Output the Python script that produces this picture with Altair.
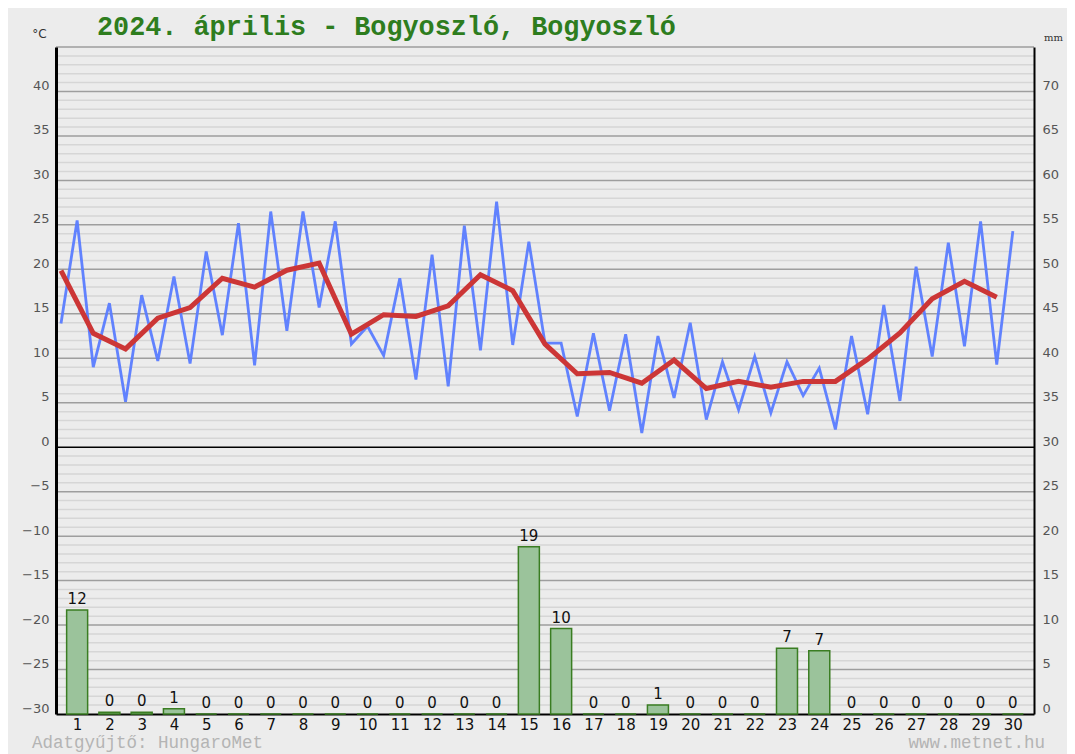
import altair as alt
import pandas as pd

# ---- data ----
days = list(range(1, 31))
# blue line: value at the start of each day and at its middle
t_edge = [13.9, 9.0, 5.1, 9.7, 9.4, 12.6, 9.2, 13.1, 15.7, 11.6,
          10.3, 7.6, 6.85, 10.9, 11.5, 11.7, 3.45, 4.1, 1.6, 5.55,
          3.1, 4.2, 3.85, 5.8, 2.0, 3.7, 5.2, 10.2, 11.35, 9.3]
t_mid = [25.5, 16.2, 17.1, 19.2, 22.0, 25.2, 26.5, 26.5, 25.4, 13.6,
         19.0, 21.65, 24.9, 27.6, 23.1, 11.7, 12.8, 12.7, 12.5, 14.0,
         9.6, 10.2, 9.6, 8.9, 12.5, 16.0, 20.3, 23.0, 25.4, 24.3]
# red line: daily mean
t_mean = [19.85, 12.8, 11.05, 14.5, 15.7, 19.0, 18.0, 19.9, 20.7, 12.7,
          14.9, 14.7, 15.9, 19.4, 17.6, 11.6, 8.25, 8.4, 7.2, 9.8,
          6.6, 7.4, 6.75, 7.4, 7.4, 9.9, 12.85, 16.7, 18.65, 16.85]
# precipitation (mm)
precip = [11.7, 0.2, 0.2, 0.6, 0, 0, 0, 0, 0, 0,
          0, 0, 0, 0, 18.8, 9.6, 0, 0, 1.0, 0,
          0, 0, 7.4, 7.1, 0, 0, 0, 0, 0, 0]

temp_ticks = list(range(-30, 41, 5))
mm_ticks = list(range(0, 71, 5))
minor_grid = [v for v in range(-29, 45) if v % 5 != 0]
major_grid = [v for v in range(-25, 46, 5) if v != 0]
zero_line = [0]

title_text = ["2024. április - Bogyoszló, Bogyoszló"]
footer_left = ["Adatgyűjtő: HungaroMet"]
footer_right = ["www.metnet.hu"]

W, H = 978, 667

blue_rows = []
for d, a, b in zip(days, t_edge, t_mid):
    blue_rows.append({"x": d - 0.5, "t": a})
    blue_rows.append({"x": d, "t": b})
blue_df = pd.DataFrame(blue_rows)
red_df = pd.DataFrame({"x": [d - 0.5 for d in days], "t": t_mean})
bar_df = pd.DataFrame({"x": days, "mm": precip})

xscale = alt.Scale(domain=[0.5, 30.5], nice=False, zero=False)
tscale = alt.Scale(domain=[-30, 45], nice=False, zero=False)
mscale = alt.Scale(domain=[0, 75], nice=False, zero=False)

xaxis = alt.Axis(values=days, format="d", title=None, grid=False, ticks=False,
                 domainColor="black", domainWidth=2, labelFont="DejaVu Sans",
                 labelFontSize=15, labelColor="#111111", labelPadding=3,
                 labelAngle=0, labelBaseline="top", zindex=0)
taxis = alt.Axis(values=temp_ticks, format="d", grid=False, ticks=False,
                 domainColor="black", domainWidth=3, labelFont="DejaVu Sans",
                 labelFontSize=13, labelColor="#555555", labelPadding=7,
                 labelOffset=-6, orient="left", zindex=2,
                 title="°C", titleAngle=0, titleX=-17, titleY=-7,
                 titleFont="DejaVu Sans", titleFontSize=12,
                 titleFontWeight="normal", titleColor="#333333",
                 titleAlign="center", titleBaseline="bottom")
maxis = alt.Axis(values=mm_ticks, format="d", grid=False, ticks=False,
                 domainColor="black", domainWidth=2, labelFont="DejaVu Sans",
                 labelFontSize=13, labelColor="#555555", labelPadding=8,
                 labelOffset=-6, orient="right", zindex=2,
                 title="mm", titleAngle=0, titleX=19, titleY=-5,
                 titleFont="DejaVu Serif", titleFontSize=10,
                 titleFontWeight="normal", titleColor="#333333",
                 titleAlign="center", titleBaseline="bottom")

minor = alt.Chart(pd.DataFrame({"v": minor_grid})).mark_rule(
    color="#d6d6d6", strokeWidth=1.5).encode(
    y=alt.Y("v:Q", scale=tscale, axis=None))
major = alt.Chart(pd.DataFrame({"v": major_grid})).mark_rule(
    color="#9e9e9e", strokeWidth=1.5).encode(
    y=alt.Y("v:Q", scale=tscale, axis=None))
zero = alt.Chart(pd.DataFrame({"v": zero_line})).mark_rule(
    color="black", strokeWidth=1.5).encode(
    y=alt.Y("v:Q", scale=tscale, axis=None))
grid_layer = alt.layer(minor, major, zero)

bars = alt.Chart(bar_df).mark_bar(
    size=21, fill="#9bc39b", stroke="#3a7d22", strokeWidth=1.5).encode(
    x=alt.X("x:Q", scale=xscale, axis=xaxis),
    y=alt.Y("mm:Q", scale=mscale, axis=maxis))
bar_labels = alt.Chart(bar_df).mark_text(
    baseline="bottom", dy=-3, font="DejaVu Sans", fontSize=15,
    color="#111111").encode(
    x=alt.X("x:Q", scale=xscale, axis=xaxis),
    y=alt.Y("mm:Q", scale=mscale, axis=maxis),
    text=alt.Text("mm:Q", format=".0f"))
bars_layer = alt.layer(bars, bar_labels)

blue = alt.Chart(blue_df).mark_line(
    color="#5a7cff", strokeWidth=2.8, opacity=0.95).encode(
    x=alt.X("x:Q", scale=xscale, axis=xaxis),
    y=alt.Y("t:Q", scale=tscale, axis=taxis))
red = alt.Chart(red_df).mark_line(
    color="#cc3636", strokeWidth=5).encode(
    x=alt.X("x:Q", scale=xscale, axis=xaxis),
    y=alt.Y("t:Q", scale=tscale, axis=taxis))
lines_layer = alt.layer(blue, red)

title_mark = alt.Chart(pd.DataFrame({"s": title_text})).mark_text(
    align="left", baseline="middle", font="Liberation Mono", fontSize=26.8,
    fontWeight="bold", color="#2e7d1e").encode(
    text="s:N", x=alt.value(41), y=alt.value(-20))
foot_l = alt.Chart(pd.DataFrame({"s": footer_left})).mark_text(
    align="left", baseline="middle", font="Liberation Mono", fontSize=17.5,
    color="#b4b4b4").encode(
    text="s:N", x=alt.value(-24), y=alt.value(H + 29))
foot_r = alt.Chart(pd.DataFrame({"s": footer_right})).mark_text(
    align="right", baseline="middle", font="Liberation Mono", fontSize=17.5,
    color="#b4b4b4").encode(
    text="s:N", x=alt.value(989), y=alt.value(H + 29))

chart = alt.layer(grid_layer, bars_layer, lines_layer, title_mark, foot_l, foot_r).resolve_scale(
    y="independent"
).properties(
    width=W, height=H,
    padding={"left": 48, "top": 39, "right": 33, "bottom": 40},
    autosize=alt.AutoSizeParams(type="none"),
    background="#ececec",
).configure_view(stroke=None)

chart.save("out.html", embed_options={"renderer": "svg", "actions": False})
